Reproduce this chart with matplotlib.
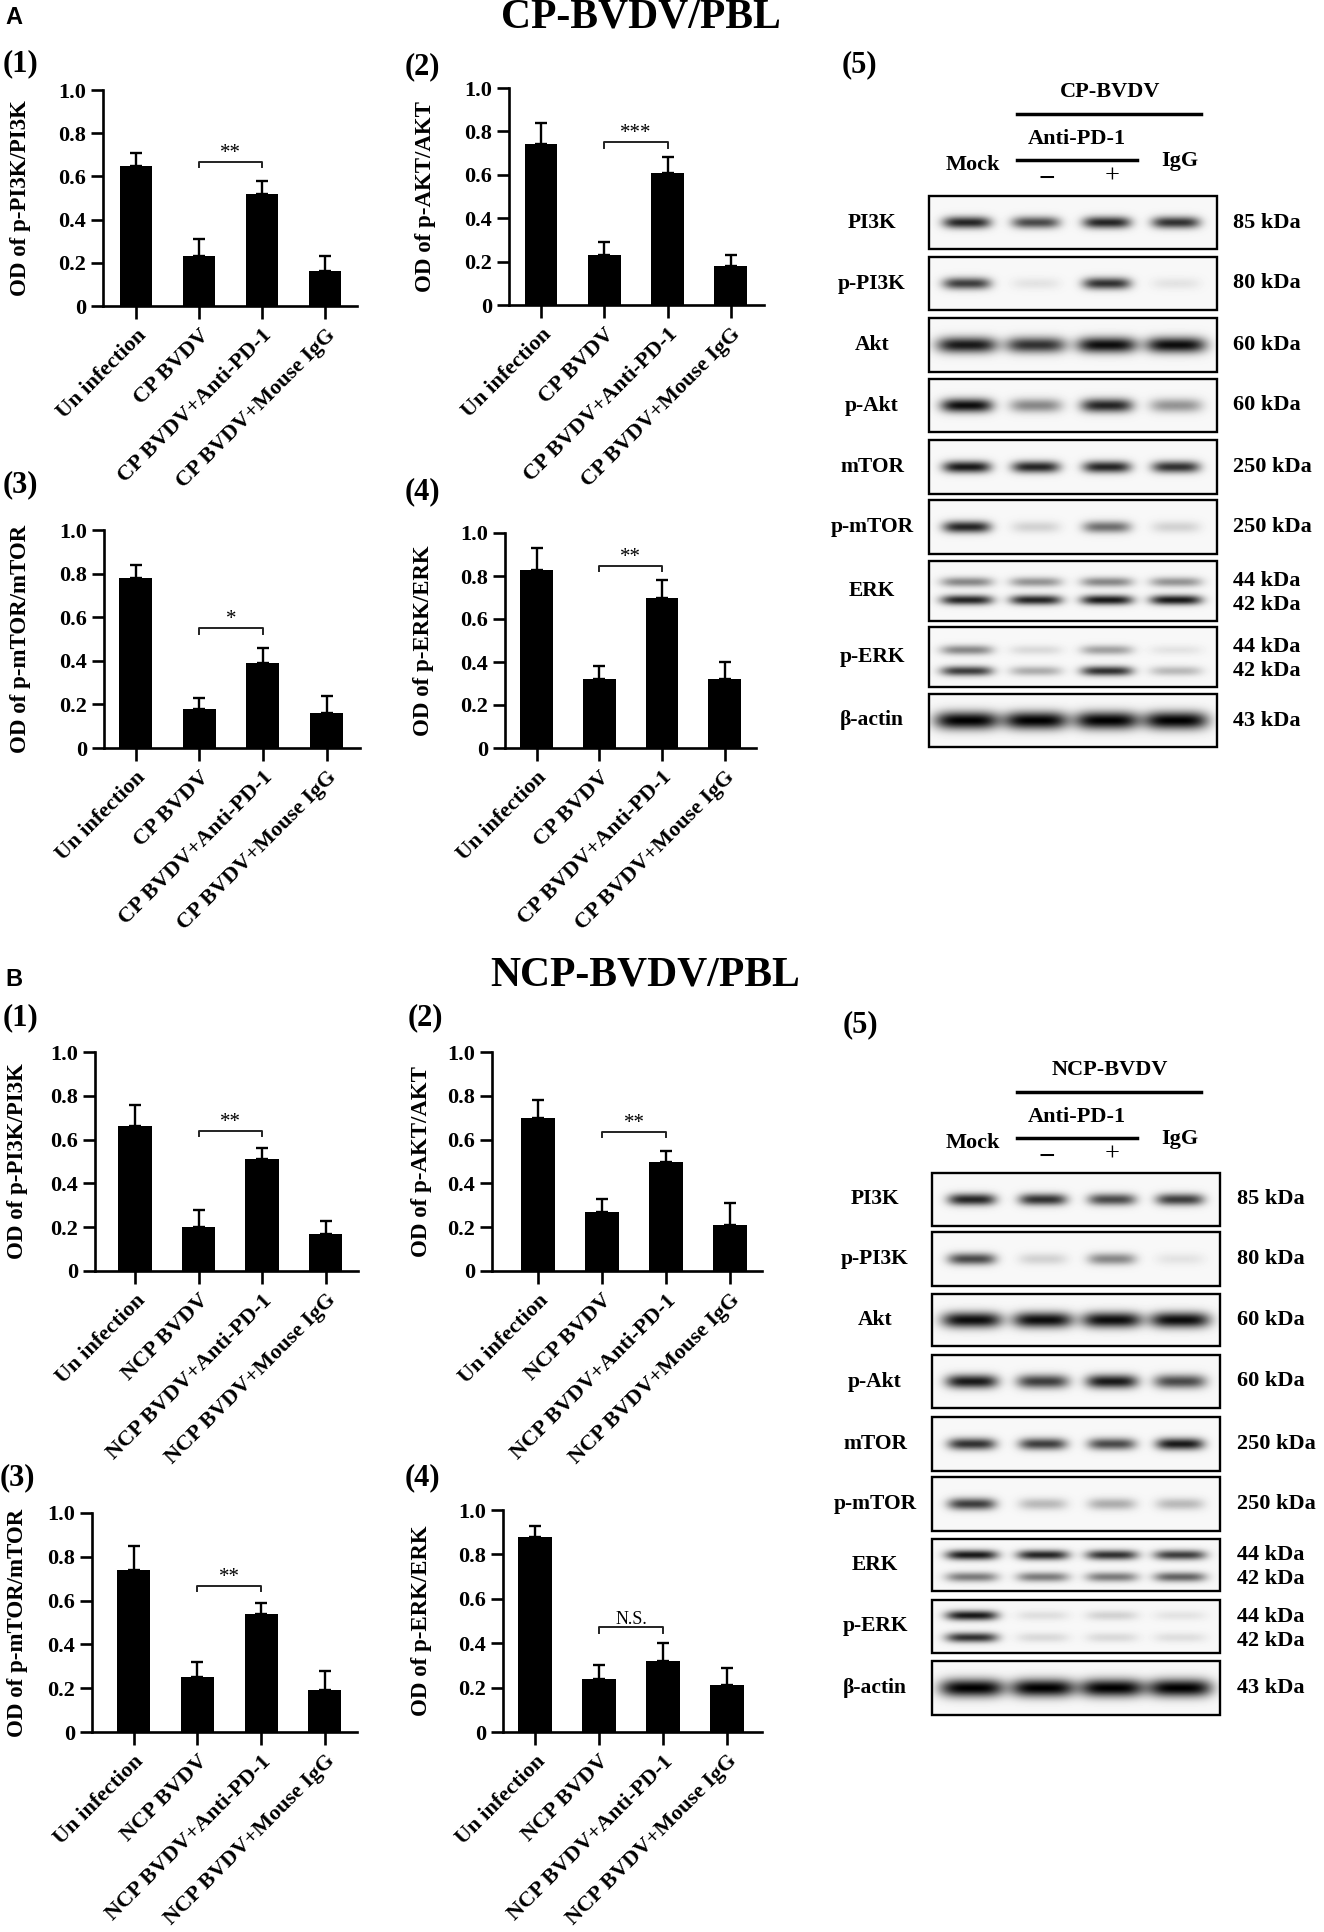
import numpy as np
import matplotlib.pyplot as plt
from matplotlib.patches import Rectangle

plt.rcParams['font.family'] = 'Liberation Serif'

# ---------------- data ----------------
groups_cp = ["Un infection", "CP BVDV", "CP BVDV+Anti-PD-1", "CP BVDV+Mouse IgG"]
groups_ncp = ["Un infection", "NCP BVDV", "NCP BVDV+Anti-PD-1", "NCP BVDV+Mouse IgG"]
ylabels = ["OD of p-PI3K/PI3K", "OD of p-AKT/AKT", "OD of p-mTOR/mTOR", "OD of p-ERK/ERK"]
yticks = [0, 0.2, 0.4, 0.6, 0.8, 1.0]
ytick_labels = ["0", "0.2", "0.4", "0.6", "0.8", "1.0"]

cp_means = [[0.65, 0.23, 0.52, 0.16],
            [0.74, 0.23, 0.61, 0.18],
            [0.78, 0.18, 0.39, 0.16],
            [0.83, 0.32, 0.70, 0.32]]
cp_err_tops = [[0.71, 0.31, 0.58, 0.23],
               [0.84, 0.29, 0.68, 0.23],
               [0.84, 0.23, 0.46, 0.24],
               [0.93, 0.38, 0.78, 0.40]]
cp_sig = ["**", "***", "*", "**"]
cp_bracket = [0.668, 0.75, 0.55, 0.846]

ncp_means = [[0.66, 0.20, 0.51, 0.17],
             [0.70, 0.27, 0.50, 0.21],
             [0.74, 0.25, 0.54, 0.19],
             [0.88, 0.24, 0.32, 0.21]]
ncp_err_tops = [[0.76, 0.28, 0.56, 0.23],
                [0.78, 0.33, 0.55, 0.31],
                [0.85, 0.32, 0.59, 0.28],
                [0.93, 0.30, 0.40, 0.29]]
ncp_sig = ["**", "**", "**", "N.S."]
ncp_bracket = [0.64, 0.635, 0.667, 0.473]

blot_rows = ["PI3K", "p-PI3K", "Akt", "p-Akt", "mTOR", "p-mTOR", "ERK", "p-ERK", "\u03b2-actin"]
blot_kda = [["85 kDa"], ["80 kDa"], ["60 kDa"], ["60 kDa"], ["250 kDa"], ["250 kDa"],
            ["44 kDa", "42 kDa"], ["44 kDa", "42 kDa"], ["43 kDa"]]
# band darkness per lane (Mock, anti-PD-1 -, anti-PD-1 +, IgG), one list per band in a row
cp_bands = [[[0.85, 0.70, 0.85, 0.80]],
            [[0.75, 0.08, 0.80, 0.08]],
            [[0.90, 0.80, 0.95, 0.95]],
            [[0.95, 0.45, 0.85, 0.40]],
            [[0.90, 0.85, 0.85, 0.80]],
            [[0.85, 0.15, 0.55, 0.15]],
            [[0.45, 0.40, 0.45, 0.40], [0.85, 0.85, 0.90, 0.90]],
            [[0.45, 0.12, 0.35, 0.08], [0.75, 0.30, 0.80, 0.25]],
            [[1.00, 1.00, 1.00, 1.00]]]
ncp_bands = [[[0.85, 0.80, 0.70, 0.75]],
             [[0.70, 0.15, 0.45, 0.08]],
             [[0.95, 0.95, 0.95, 0.95]],
             [[0.90, 0.75, 0.90, 0.70]],
             [[0.80, 0.75, 0.70, 0.90]],
             [[0.75, 0.25, 0.30, 0.25]],
             [[0.90, 0.85, 0.80, 0.75], [0.50, 0.50, 0.50, 0.60]],
             [[0.90, 0.10, 0.15, 0.08], [0.80, 0.12, 0.12, 0.10]],
             [[1.00, 1.00, 1.00, 1.00]]]

# ---------------- layout (pixels) ----------------
W, H = 1324, 1932
fig = plt.figure(figsize=(W / 100, H / 100), dpi=100)


def px_rect(l, t, r, b):
    return [l / W, 1 - b / H, (r - l) / W, (b - t) / H]


ov = fig.add_axes([0, 0, 1, 1])
ov.axis('off')


def bar_panel(geom, groups, means, tops, ylabel, sig, bh, ylab_x):
    L, T, R, B, c0, s = geom
    ax = fig.add_axes(px_rect(L, T, R, B))
    x = np.arange(len(groups))
    means = np.array(means)
    err = np.array(tops) - means
    ax.bar(x, means, width=0.52, color='black', zorder=2)
    ax.errorbar(x, means, yerr=[np.zeros_like(err), err], fmt='none', ecolor='black',
                elinewidth=1.7, capsize=4.5, capthick=1.7, zorder=1)
    ax.set_xlim((L - c0) / s, (R - c0) / s)
    ax.set_ylim(0, 1)
    for sp in ['top', 'right']:
        ax.spines[sp].set_visible(False)
    for sp in ['left', 'bottom']:
        ax.spines[sp].set_linewidth(1.9)
    ax.set_yticks(yticks)
    ax.set_yticklabels(ytick_labels, fontsize=16, fontweight='bold')
    ax.set_xticks(x)
    ax.set_xticklabels(groups, rotation=45, ha='right', rotation_mode='anchor',
                       fontsize=16, fontweight='bold')
    ax.tick_params(axis='both', width=1.9, length=9)
    ax.tick_params(axis='x', pad=5)
    ax.tick_params(axis='y', pad=3)
    ax.plot([1, 1, 2, 2], [bh - 0.025, bh, bh, bh - 0.025], color='#222222', lw=1.4,
            clip_on=False)
    ax.text(1.5, bh - 0.005, sig, ha='center', va='bottom',
            fontsize=15 if sig != "N.S." else 13)
    fig.text(ylab_x / W, 1 - ((T + B) / 2) / H, ylabel, rotation=90, ha='center',
             va='center', fontsize=16.5, fontweight='bold')
    return ax


cp_geoms = [(103, 90, 357, 306, 136, 63.0),
            (509, 88, 764, 305, 541, 63.3),
            (104, 530, 360, 748, 135.5, 63.7),
            (505, 533, 756, 748, 536.5, 62.7)]
ncp_geoms = [(95, 1052, 358, 1271, 135, 63.5),
             (492, 1052, 762, 1271, 538, 64.0),
             (92, 1513, 357, 1732, 133.5, 63.8),
             (503, 1510, 762, 1732, 535, 64.0)]
cp_ylab_x = [21, 426, 21, 424]
ncp_ylab_x = [18, 421, 18, 421]

for i in range(4):
    bar_panel(cp_geoms[i], groups_cp, cp_means[i], cp_err_tops[i], ylabels[i],
              cp_sig[i], cp_bracket[i], cp_ylab_x[i])
    bar_panel(ncp_geoms[i], groups_ncp, ncp_means[i], ncp_err_tops[i], ylabels[i],
              ncp_sig[i], ncp_bracket[i], ncp_ylab_x[i])

# ---------------- western blots ----------------
band_hw = [24, 24, 30, 26, 24, 24, 26, 26, 32]
band_hh = [6, 6, 8, 7, 6, 6, 5, 5, 9]


def blot_panel(boxes, left, right, lanes, bands, band_off, kda_off, label_x, kda_x):
    for i, (t, b) in enumerate(boxes):
        xs = np.arange(left, right) + 0.5
        ys = np.arange(t, b) + 0.5
        X, Y = np.meshgrid(xs, ys)
        dark = np.zeros_like(X)
        yc0 = (t + b) / 2
        for vals, off in zip(bands[i], band_off[i]):
            for v, xc in zip(vals, lanes):
                dark += v * np.exp(-((X - xc) / band_hw[i]) ** 4) * \
                    np.exp(-((Y - yc0 - off) / band_hh[i]) ** 2)
        img = 0.97 - 0.97 * np.clip(dark, 0, 1)
        ov.imshow(img, extent=(left, right, b, t), cmap='gray', vmin=0, vmax=1,
                  aspect='auto', interpolation='bilinear', zorder=1)
        ov.add_patch(Rectangle((left, t), right - left, b - t, fill=False,
                               ec='black', lw=1.7, zorder=2))
        ov.text(label_x, yc0, blot_rows[i], ha='center', va='center',
                fontsize=15.5, fontweight='bold')
        for txt, off in zip(blot_kda[i], kda_off[i]):
            ov.text(kda_x, yc0 + off, txt, ha='left', va='center',
                    fontsize=16, fontweight='bold')


single = [0]
cp_band_off = [single] * 6 + [[-9, 9], [-7, 14], single]
ncp_band_off = [single] * 6 + [[-10, 12], [-11, 11], single]
kda_off = [single] * 6 + [[-10, 14], [-10, 14], single]

cp_boxes = [(196, 249), (257, 310), (318, 372), (379, 432), (440, 494),
            (500, 554), (561, 621), (627, 687), (694, 747)]
ncp_boxes = [(1173, 1226), (1232, 1286), (1294, 1346), (1355, 1408), (1417, 1471),
             (1477, 1531), (1539, 1591), (1600, 1653), (1661, 1715)]

blot_panel(cp_boxes, 929, 1217, [967, 1036, 1107, 1176], cp_bands, cp_band_off,
           kda_off, 872, 1233)
blot_panel(ncp_boxes, 932, 1220, [972, 1043, 1112, 1180], ncp_bands, ncp_band_off,
           kda_off, 875, 1237)


def blot_header(virus, y0):
    ov.text(1110, y0 + 92, virus, ha='center', va='center', fontsize=16, fontweight='bold')
    ov.plot([1017, 1201], [y0 + 114, y0 + 114], color='black', lw=2.5)
    ov.text(1077, y0 + 139, "Anti-PD-1", ha='center', va='center', fontsize=16,
            fontweight='bold')
    ov.plot([1017, 1137], [y0 + 160, y0 + 160], color='black', lw=2.5)
    ov.text(973, y0 + 165, "Mock", ha='center', va='center', fontsize=16, fontweight='bold')
    ov.text(1180, y0 + 161, "IgG", ha='center', va='center', fontsize=16, fontweight='bold')
    ov.text(1047, y0 + 179, "\u2212", ha='center', va='center', fontsize=21, fontweight='bold')
    ov.text(1112, y0 + 177, "+", ha='center', va='center', fontsize=19)


blot_header("CP-BVDV", 0)
blot_header("NCP-BVDV", 978)

# ---------------- titles and panel labels ----------------
ov.text(5, 17, "A", ha='left', va='center', fontsize=17, fontweight='bold',
        family='Liberation Sans')
ov.text(5, 979, "B", ha='left', va='center', fontsize=17, fontweight='bold',
        family='Liberation Sans')
ov.text(641, 17, "CP-BVDV/PBL", ha='center', va='center', fontsize=30, fontweight='bold')
ov.text(645, 976, "NCP-BVDV/PBL", ha='center', va='center', fontsize=30, fontweight='bold')

sub_labels = ["(1)", "(2)", "(3)", "(4)", "(5)"]
cp_sub_pos = [(3, 64), (405, 67), (3, 485), (405, 492), (842, 65)]
ncp_sub_pos = [(3, 1018), (408, 1018), (0, 1478), (405, 1478), (843, 1025)]
for lab, (x, y) in zip(sub_labels, cp_sub_pos):
    ov.text(x, y, lab, ha='left', va='center', fontsize=22, fontweight='bold')
for lab, (x, y) in zip(sub_labels, ncp_sub_pos):
    ov.text(x, y, lab, ha='left', va='center', fontsize=22, fontweight='bold')

ov.set_xlim(0, W)
ov.set_ylim(H, 0)

fig.savefig('out.png', dpi=100)
